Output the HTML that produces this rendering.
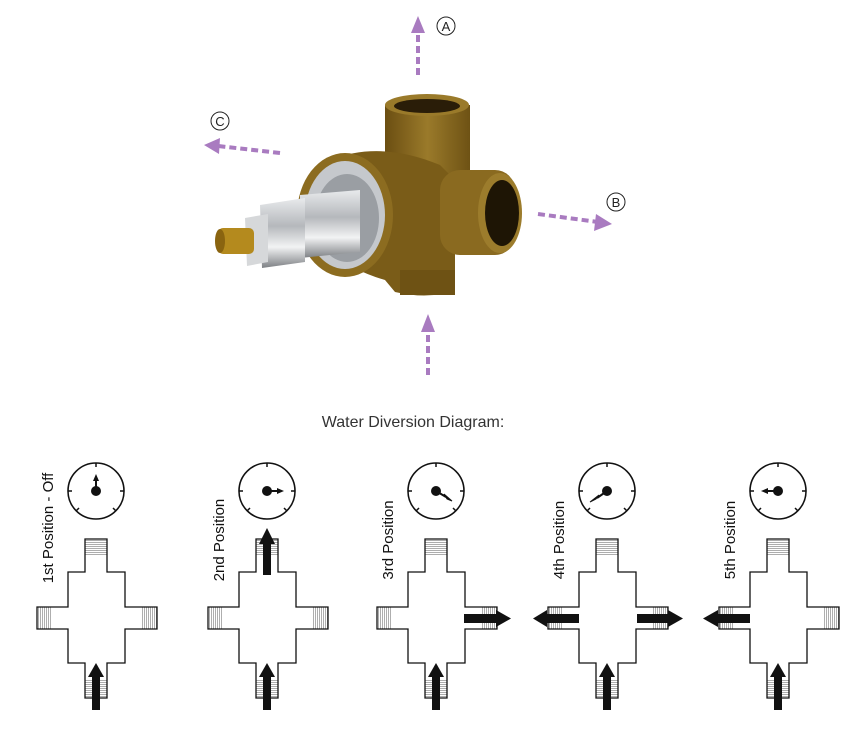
<!DOCTYPE html>
<html><head><meta charset="utf-8"><style>
html,body{margin:0;padding:0;background:#fff;}
svg{display:block;}
</style></head><body>
<svg width="866" height="734" viewBox="0 0 866 734" xmlns="http://www.w3.org/2000/svg">
<defs>
<pattern id="hh" width="4" height="2" patternUnits="userSpaceOnUse"><rect width="4" height="2" fill="#fff"/><line x1="0" y1="0.5" x2="4" y2="0.5" stroke="#777" stroke-width="0.6"/></pattern>
<pattern id="hv" width="2" height="4" patternUnits="userSpaceOnUse"><rect width="2" height="4" fill="#fff"/><line x1="0.5" y1="0" x2="0.5" y2="4" stroke="#777" stroke-width="0.6"/></pattern>
<linearGradient id="brass" x1="0" y1="0" x2="1" y2="0"><stop offset="0" stop-color="#6b4e12"/><stop offset="0.5" stop-color="#9a7a2a"/><stop offset="1" stop-color="#6e5214"/></linearGradient>
<linearGradient id="chrome" x1="0" y1="0" x2="0" y2="1"><stop offset="0" stop-color="#e8eaec"/><stop offset="0.4" stop-color="#b5b8bc"/><stop offset="0.7" stop-color="#f2f3f4"/><stop offset="1" stop-color="#7d8084"/></linearGradient>
<g id="cross">
<rect x="-11" y="539" width="22" height="17" fill="url(#hh)"/>
<rect x="-11" y="680" width="22" height="18" fill="url(#hh)"/>
<rect x="-59" y="607" width="15" height="22" fill="url(#hv)"/>
<rect x="46" y="607" width="15" height="22" fill="url(#hv)"/>
<path d="M-11 539H11V572H29V607H61V629H29V663H11V698H-11V663H-28V629H-59V607H-28V572H-11Z" fill="none" stroke="#111" stroke-width="1.3"/>
</g>
<g id="dial">
<circle cx="0" cy="491" r="28" fill="#fff" stroke="#111" stroke-width="1.6"/>
<line x1="0" y1="463" x2="0" y2="467" stroke="#111" stroke-width="1.5"/>
<line x1="-28" y1="491" x2="-24" y2="491" stroke="#111" stroke-width="1.5"/>
<line x1="28" y1="491" x2="24" y2="491" stroke="#111" stroke-width="1.5"/>
<line x1="-20" y1="511" x2="-17" y2="508" stroke="#111" stroke-width="1.5"/>
<line x1="20" y1="511" x2="17" y2="508" stroke="#111" stroke-width="1.5"/>
<circle cx="0" cy="491" r="5" fill="#111"/>
</g>
<g id="upArr"><rect x="-4" y="675" width="8" height="35" fill="#111"/><path d="M-8 677L0 663L8 677Z" fill="#111"/></g>
</defs>

<!-- top image: purple arrows -->
<g stroke="#a97bc0" stroke-width="4" stroke-dasharray="7,4" fill="none">
<line x1="418" y1="75" x2="418" y2="30"/>
<line x1="280" y1="153" x2="218" y2="146"/>
<line x1="538" y1="214" x2="598" y2="222"/>
<line x1="428" y1="375" x2="428" y2="328"/>
</g>
<g fill="#a97bc0">
<path d="M411 33L418 16L425 33Z"/>
<path d="M220 138L204 145L219 154Z"/>
<path d="M596 214L612 224L594 231Z"/>
<path d="M421 332L428 314L435 332Z"/>
</g>
<g font-family="Liberation Sans, sans-serif" font-size="13" fill="#222" text-anchor="middle">
<circle cx="446" cy="26" r="9" fill="none" stroke="#222" stroke-width="1"/><text x="446" y="31">A</text>
<circle cx="220" cy="121" r="9" fill="none" stroke="#222" stroke-width="1"/><text x="220" y="126">C</text>
<circle cx="616" cy="202" r="9" fill="none" stroke="#222" stroke-width="1"/><text x="616" y="207">B</text>
</g>

<!-- valve -->
<rect x="385" y="105" width="85" height="85" fill="url(#brass)"/>
<ellipse cx="427" cy="105" rx="42" ry="11" fill="#9a7a2a"/>
<ellipse cx="427" cy="106" rx="33" ry="7" fill="#2a1d08"/>
<path d="M330 160Q380 140 440 165L455 180V290Q430 300 395 292L385 280Q350 270 330 250Z" fill="#7a5c18"/>
<rect x="440" y="170" width="75" height="85" rx="20" fill="#8a6a20"/>
<ellipse cx="500" cy="213" rx="22" ry="40" fill="#9c7c2c"/>
<ellipse cx="502" cy="213" rx="17" ry="33" fill="#1e1505"/>
<path d="M400 270H455V295H400Z" fill="#6e5214"/>
<ellipse cx="345" cy="215" rx="48" ry="62" fill="#8c6c20"/>
<ellipse cx="345" cy="215" rx="40" ry="54" fill="#c5c8cc"/>
<ellipse cx="347" cy="218" rx="32" ry="44" fill="#9a9ea3"/>
<path d="M300 195L360 190V252L300 258Z" fill="url(#chrome)"/>
<path d="M260 205L305 198V262L262 268Z" fill="url(#chrome)"/>
<path d="M245 218L268 214V262L247 266Z" fill="#d6d8da"/>
<rect x="218" y="228" width="36" height="26" rx="5" fill="#b48a1e"/>
<ellipse cx="220" cy="241" rx="5" ry="12" fill="#8a6410"/>

<text x="413" y="427" font-family="Liberation Sans, sans-serif" font-size="16" fill="#333" text-anchor="middle">Water Diversion Diagram:</text>

<!-- panels -->
<g font-family="Liberation Sans, sans-serif" font-size="15" fill="#111">
<g transform="translate(96,0)">
<use href="#cross"/><use href="#dial"/><use href="#upArr"/>
<line x1="0" y1="491" x2="0" y2="479" stroke="#111" stroke-width="2"/><path d="M-3 481L0 474L3 481Z" fill="#111"/>
<text transform="translate(-43,528) rotate(-90)" text-anchor="middle">1st Position - Off</text>
</g>
<g transform="translate(267,0)">
<use href="#cross"/><use href="#dial"/><use href="#upArr"/>
<rect x="-4" y="542" width="8" height="33" fill="#111"/><path d="M-8 544L0 528L8 544Z" fill="#111"/>
<line x1="0" y1="491" x2="12" y2="491" stroke="#111" stroke-width="2"/><path d="M10 488L17 491L10 494Z" fill="#111"/>
<text transform="translate(-43,540) rotate(-90)" text-anchor="middle">2nd Position</text>
</g>
<g transform="translate(436,0)">
<use href="#cross"/><use href="#dial"/><use href="#upArr"/>
<line x1="0" y1="491" x2="10" y2="497" stroke="#111" stroke-width="2"/><path d="M8 494L16 501L11 499Z" fill="#111" stroke="#111"/>
<rect x="28" y="614" width="33" height="9" fill="#111"/><path d="M60 610L75 618.5L60 627Z" fill="#111"/>
<text transform="translate(-43,540) rotate(-90)" text-anchor="middle">3rd Position</text>
</g>
<g transform="translate(607,0)">
<use href="#cross"/><use href="#dial"/><use href="#upArr"/>
<line x1="0" y1="491" x2="-10" y2="498" stroke="#111" stroke-width="2"/><path d="M-8 495L-17 502L-11 499Z" fill="#111" stroke="#111"/>
<rect x="-60" y="614" width="32" height="9" fill="#111"/><path d="M-60 610L-74 618.5L-60 627Z" fill="#111"/>
<rect x="30" y="614" width="32" height="9" fill="#111"/><path d="M61 610L76 618.5L61 627Z" fill="#111"/>
<text transform="translate(-43,540) rotate(-90)" text-anchor="middle">4th Position</text>
</g>
<g transform="translate(778,0)">
<use href="#cross"/><use href="#dial"/><use href="#upArr"/>
<line x1="0" y1="491" x2="-12" y2="491" stroke="#111" stroke-width="2"/><path d="M-10 488L-17 491L-10 494Z" fill="#111"/>
<rect x="-60" y="614" width="32" height="9" fill="#111"/><path d="M-60 610L-75 618.5L-60 627Z" fill="#111"/>
<text transform="translate(-43,540) rotate(-90)" text-anchor="middle">5th Position</text>
</g>
</g>
</svg>
</body></html>
